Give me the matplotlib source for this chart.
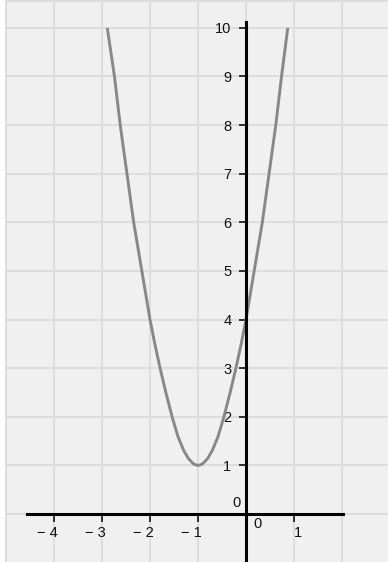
import matplotlib
matplotlib.use("Agg")
import matplotlib.pyplot as plt

plt.rcParams['font.family'] = ['Liberation Sans', 'DejaVu Sans']

# points along the plotted curve (x, y)
curve_x = [-2.89, -2.74, -2.62, -2.48, -2.34, -2.17, -2.00, -1.90, -1.79, -1.67,
           -1.54, -1.42, -1.30, -1.20, -1.10, -1.05, -1.00, -0.95, -0.90, -0.80,
           -0.70, -0.58, -0.46, -0.33, -0.21, -0.10, 0.00, 0.17, 0.34, 0.48,
           0.62, 0.74, 0.87]
curve_y = [10.0, 9.0, 8.0, 7.0, 6.0, 5.0, 4.0, 3.5, 3.0, 2.5,
           2.0, 1.6, 1.31, 1.14, 1.035, 1.01, 1.0, 1.01, 1.035, 1.14,
           1.31, 1.6, 2.0, 2.5, 3.0, 3.5, 4.0, 5.0, 6.0, 7.0,
           8.0, 9.0, 10.0]

x_ticks = [-4, -3, -2, -1, 1]
x_tick_labels = ['\u2212 4', '\u2212 3', '\u2212 2', '\u2212 1', '1']
y_ticks = [1, 2, 3, 4, 5, 6, 7, 8, 9, 10]
y_tick_labels = [str(v) for v in y_ticks]

grid_x = range(-5, 3)
grid_y = range(-1, 11)

xlim = (-5.0, 2.958)
ylim = (-0.988, 10.547)

grid_color = '#dddddd'
curve_color = '#888888'
text_color = '#111111'

fig = plt.figure(figsize=(3.88, 5.62), dpi=100, facecolor='white')
ax = fig.add_axes([6 / 388, 0, 382 / 388, 560.7 / 562])
ax.set_facecolor('#f0f0f0')
ax.set_xlim(*xlim)
ax.set_ylim(*ylim)

# background grid plus the frame on the left and top
for gx in grid_x:
    ax.axvline(gx, color=grid_color, lw=1.5, zorder=0, clip_on=False)
for gy in grid_y:
    ax.axhline(gy, color=grid_color, lw=1.5, zorder=0)
ax.axhline(ylim[1], color=grid_color, lw=1.5, zorder=0, clip_on=False)

# coordinate axes through the origin
ax.spines['top'].set_visible(False)
ax.spines['right'].set_visible(False)
ax.spines['left'].set_position(('data', 0))
ax.spines['bottom'].set_position(('data', 0))
ax.spines['left'].set_bounds(-1.2, 10.12)
ax.spines['bottom'].set_bounds(-4.56, 2.02)
for side in ('left', 'bottom'):
    ax.spines[side].set_linewidth(2.2)
    ax.spines[side].set_color('black')

ax.set_xticks(x_ticks)
ax.set_xticklabels([])
ax.set_yticks(y_ticks)
ax.set_yticklabels(y_tick_labels)
ax.tick_params(axis='x', direction='out', length=5.8, width=1.1, color='black')
ax.tick_params(axis='y', direction='out', length=5.0, width=1.1, color='black',
               pad=5.6, labelsize=10.5, labelcolor=text_color)

# x tick labels sit a little off the ticks
for t, lab in zip(x_ticks, x_tick_labels):
    if t < 0:
        ax.text(t + 4 / 48, -19 / 48.6, lab, ha='right', va='center',
                fontsize=10.5, color=text_color)
    else:
        ax.text(t, -19 / 48.6, lab, ha='left', va='center',
                fontsize=10.5, color=text_color)
ax.text(7 / 48, -10.5 / 48.6, '0', ha='left', va='center', fontsize=10.5, color=text_color)
ax.text(-5 / 48, 11 / 48.6, '0', ha='right', va='center', fontsize=10.5, color=text_color)

ax.plot(curve_x, curve_y, color=curve_color, lw=2.1, solid_capstyle='butt',
        solid_joinstyle='round', zorder=2)

fig.savefig('out.png', dpi=100, facecolor='white')
